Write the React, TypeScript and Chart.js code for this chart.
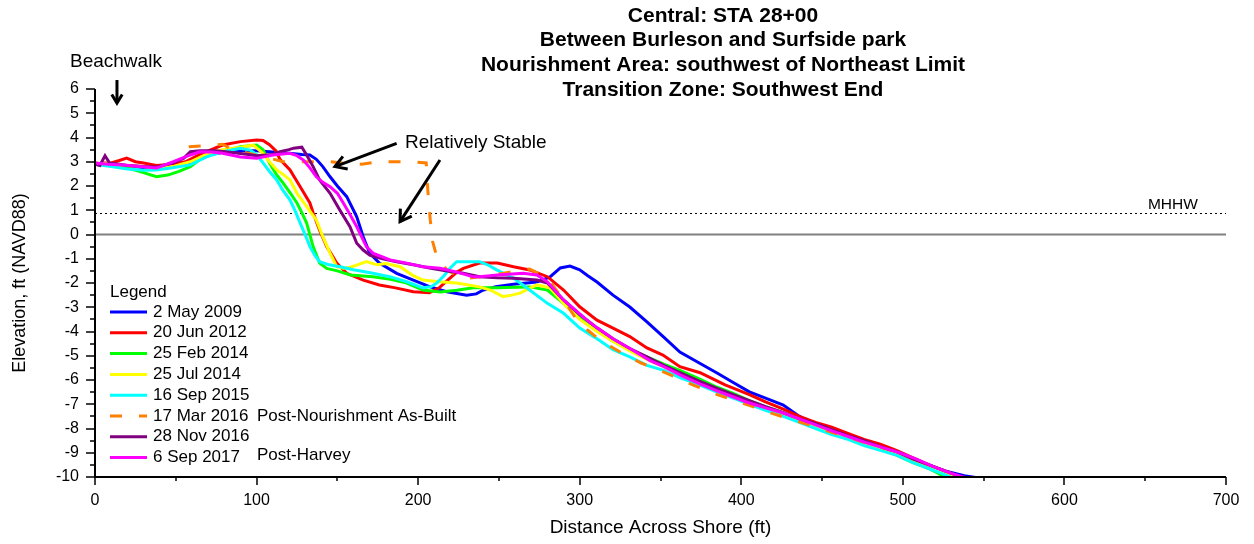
import React, { useEffect, useRef } from 'react';
import { Chart, registerables } from 'chart.js';

Chart.register(...registerables);

type Pt = [number, number];

// Beach profile surveys: [distance across shore (ft), elevation (ft NAVD88)]
const may2009: Pt[] = [
  [0, 2.95], [5, 2.9], [12, 2.85], [20, 2.85], [30, 2.75], [38, 2.7], [48, 2.8], [56, 2.9], [65, 3.1], [72, 3.3],
  [80, 3.4], [90, 3.45], [100, 3.45], [110, 3.4], [120, 3.35], [128, 3.3], [133, 3.28], [137, 3.1], [141, 2.8],
  [145.5, 2.38], [150, 2.0], [155.8, 1.56], [162, 0.73], [166, -0.09], [170, -0.77], [176, -1.18], [186.7, -1.6],
  [197, -1.88], [207, -2.15], [217.7, -2.36], [230, -2.5], [236, -2.45], [240, -2.3], [248, -2.15], [259, -2.05],
  [273.5, -1.96], [281.6, -1.75], [288, -1.38], [294, -1.3], [300, -1.46], [305, -1.7], [310.7, -1.96], [320.6, -2.5],
  [331, -2.99], [341.6, -3.6], [351.5, -4.2], [362, -4.85], [374, -5.3], [385, -5.71], [395, -6.1], [405, -6.49],
  [415, -6.75], [426, -7.03], [436, -7.5], [446, -7.85], [456, -8.05], [466, -8.3], [476, -8.5], [486, -8.75],
  [496, -8.95], [506, -9.25], [516, -9.5], [526, -9.75], [538, -9.95], [548, -10.05],
];

const jun2012: Pt[] = [
  [0, 2.9], [5, 2.95], [10, 2.95], [15, 3.05], [19.6, 3.15], [25, 3.0], [30, 2.95], [38, 2.85], [48, 2.9], [56, 3.0],
  [65, 3.3], [72, 3.5], [79, 3.69], [90, 3.83], [100, 3.9], [104, 3.88], [108, 3.7], [112, 3.45], [114.5, 3.1],
  [120.7, 2.66], [127, 1.97], [133, 1.3], [135, 0.9], [139, 0.18], [143.4, -0.5], [149.6, -1.18], [155.8, -1.6],
  [166, -1.88], [176, -2.08], [186, -2.2], [197, -2.36], [207, -2.4], [213, -2.2], [219.7, -1.8], [224, -1.55],
  [228, -1.4], [238, -1.18], [249, -1.18], [259, -1.33], [269, -1.46], [280, -1.74], [290, -2.29], [300, -2.98],
  [310.7, -3.53], [320.6, -3.86], [331, -4.21], [341.6, -4.68], [351.5, -4.97], [362, -5.45], [374.5, -5.7],
  [390, -6.2], [405, -6.6], [415, -6.9], [426, -7.2], [436, -7.5], [446, -7.75], [456, -7.95], [466, -8.2],
  [476, -8.45], [486, -8.65], [496, -8.9], [506, -9.2], [516, -9.5], [526, -9.75], [536, -10.0], [540, -10.1],
];

const feb2014: Pt[] = [
  [0, 2.9], [10, 2.85], [20, 2.75], [30, 2.55], [38, 2.38], [45, 2.45], [52, 2.6], [59, 2.8], [64, 3.05], [69, 3.28],
  [79, 3.41], [90, 3.62], [100, 3.69], [104, 3.5], [108, 2.95], [112, 2.5], [116.5, 2.12], [121, 1.7], [125, 1.3],
  [128, 0.9], [131, 0.47], [135, -0.5], [139, -1.18], [143.4, -1.4], [150, -1.5], [158, -1.67], [172, -1.74],
  [183, -1.85], [193, -2.0], [203, -2.29], [213.5, -2.37], [224, -2.3], [234, -2.2], [249, -2.2], [260, -2.18],
  [269, -2.16], [280, -2.29], [290, -2.84], [300, -3.45], [310.7, -3.95], [320.6, -4.4], [331, -4.75], [341.6, -5.05],
  [352, -5.35], [362, -5.6], [374, -5.95], [385, -6.3], [395, -6.55], [405, -6.85], [415, -7.1], [426, -7.35],
  [436, -7.65], [446, -7.9], [456, -8.15], [466, -8.4], [476, -8.65], [486, -8.85], [496, -9.1], [506, -9.4],
  [516, -9.65], [522, -9.85], [527, -10.05],
];

const jul2014: Pt[] = [
  [0, 2.95], [10, 2.9], [20, 2.85], [30, 2.8], [38, 2.72], [48, 2.8], [59, 3.0], [69, 3.3], [79, 3.5], [90, 3.6],
  [98, 3.69], [104, 3.35], [108, 3.0], [112.5, 2.66], [117, 2.45], [120.7, 2.25], [125, 1.7], [131, 1.15], [137, 0.6],
  [141, -0.09], [145.5, -0.77], [149.6, -1.33], [153.7, -1.39], [158, -1.35], [162, -1.26], [168, -1.12],
  [174.5, -1.25], [180, -1.2], [188.8, -1.33], [197, -1.7], [203, -1.88], [213, -1.95], [223.8, -2.0], [238, -2.16],
  [245, -2.3], [252.6, -2.56], [258, -2.5], [263, -2.42], [268, -2.25], [273.5, -2.08], [281.6, -2.2], [290, -2.84],
  [300, -3.5], [310.7, -4.0], [320.6, -4.4], [331, -4.8], [341.6, -5.15], [352, -5.45], [362, -5.75], [374, -6.1],
  [385, -6.4], [395, -6.7], [405, -6.95], [415, -7.2], [426, -7.45], [436, -7.7], [446, -7.95], [456, -8.2],
  [466, -8.4], [476, -8.6], [486, -8.85], [496, -9.05], [506, -9.3], [516, -9.6], [526, -9.85], [535, -10.05],
];

const sep2015: Pt[] = [
  [0, 2.9], [10, 2.8], [20, 2.7], [30, 2.65], [38, 2.66], [48, 2.75], [59, 2.87], [69, 3.2], [79, 3.41], [90, 3.56],
  [96, 3.48], [100, 3.3], [104, 2.95], [108, 2.6], [112.5, 2.25], [116, 1.85], [120.7, 1.42], [124, 0.95], [127, 0.47],
  [130, 0.0], [133, -0.5], [136, -0.85], [139, -1.12], [145, -1.25], [151.6, -1.33], [160, -1.45], [172, -1.6],
  [183, -1.75], [193, -1.95], [203, -2.2], [208, -2.15], [211.5, -2.0], [216, -1.7], [219.7, -1.39], [223.8, -1.12],
  [230, -1.12], [238, -1.12], [243, -1.25], [248.6, -1.46], [259, -1.8], [269, -2.29], [280, -2.84], [290, -3.25],
  [300, -3.86], [310.7, -4.3], [320.6, -4.75], [331, -5.05], [341.6, -5.4], [352, -5.6], [362, -5.9], [374, -6.2],
  [385, -6.5], [395, -6.75], [405, -7.0], [415, -7.25], [426, -7.5], [436, -7.75], [446, -8.0], [456, -8.25],
  [466, -8.45], [476, -8.7], [486, -8.9], [496, -9.1], [506, -9.4], [516, -9.65], [524, -9.85], [531, -10.05],
];

const mar2016: Pt[] = [
  [58, 3.62], [68, 3.66], [79, 3.72], [85, 3.5], [95, 3.35], [105, 3.2], [116.5, 3.0], [130, 3.0], [145.5, 3.0],
  [155.7, 2.93], [165, 2.9], [176, 3.0], [190, 3.0], [197, 3.0], [205, 2.95], [206, 1.8], [207.5, 0.6], [209, -0.3],
  [211.5, -0.9], [217.7, -1.45], [225, -1.75], [232, -1.8], [243, -1.7], [253, -1.6], [261, -1.5], [269, -1.42],
  [280, -1.8], [290, -2.7], [298, -3.5], [305, -3.95], [312.5, -4.35], [320, -4.65], [329, -5.0], [338, -5.3],
  [348, -5.55], [360, -5.9], [370, -6.2], [385, -6.6], [403, -7.0], [420, -7.4], [442.5, -7.86], [461, -8.27],
  [480, -8.65], [500, -9.05], [520, -9.6], [535, -10.0],
];

const nov2016: Pt[] = [
  [0, 2.9], [3, 2.85], [6.2, 3.25], [9, 2.95], [15, 2.9], [20, 2.85], [30, 2.8], [38, 2.78], [48, 2.95], [55, 3.15],
  [59, 3.41], [65, 3.45], [75, 3.45], [85, 3.38], [95, 3.3], [100, 3.25], [110, 3.3], [114.5, 3.41], [120, 3.5],
  [123, 3.56], [128, 3.6], [131, 3.28], [135, 2.8], [139, 2.25], [145.5, 1.7], [151.6, 1.0], [157.8, 0.32],
  [162, -0.36], [166, -0.64], [170, -0.85], [178, -1.0], [186.7, -1.12], [197, -1.25], [207, -1.38], [217, -1.5],
  [228, -1.6], [238, -1.74], [249, -1.78], [259, -1.8], [273.5, -1.88], [280, -2.0], [290, -2.7], [300, -3.3],
  [310.7, -3.85], [320.6, -4.3], [331, -4.7], [341.6, -5.05], [352, -5.4], [362, -5.7], [374, -6.05], [385, -6.35],
  [395, -6.6], [405, -6.85], [415, -7.1], [426, -7.35], [436, -7.6], [446, -7.8], [456, -8.05], [466, -8.3],
  [476, -8.5], [486, -8.75], [496, -8.95], [506, -9.25], [516, -9.5], [526, -9.75], [540, -10.1],
];

const sep2017: Pt[] = [
  [0, 2.95], [8, 2.9], [17.5, 2.87], [28, 2.8], [38, 2.74], [48.5, 3.0], [59, 3.28], [65, 3.41], [72, 3.4],
  [79, 3.35], [90, 3.2], [100, 3.14], [110, 3.28], [120.7, 3.35], [125, 3.25], [129, 3.07], [133, 2.75], [137, 2.38],
  [141, 2.15], [145.5, 1.97], [150, 1.7], [153.7, 1.3], [158, 0.8], [162, 0.32], [168, -0.5], [172, -0.77],
  [182.6, -1.05], [193, -1.18], [203, -1.33], [213.5, -1.39], [224, -1.55], [234, -1.74], [238, -1.74], [249, -1.67],
  [265, -1.6], [273.5, -1.67], [280, -1.95], [290, -2.7], [304.5, -3.53], [310.7, -3.85], [320.6, -4.3], [331, -4.7],
  [343.5, -5.2], [352, -5.45], [364, -5.85], [374, -6.15], [385, -6.45], [395, -6.7], [405, -6.95], [415, -7.15],
  [426, -7.36], [436, -7.6], [446, -7.85], [456, -8.1], [467, -8.35], [478, -8.6], [488, -8.8], [498, -9.0],
  [508, -9.25], [519, -9.57], [530, -9.85], [540, -10.05],
];

const surveys: Pt[][] = [may2009, jun2012, feb2014, jul2014, sep2015, mar2016, nov2016, sep2017];
const surveyLabels = ['2 May 2009', '20 Jun 2012', '25 Feb 2014', '25 Jul 2014', '16 Sep 2015', '17 Mar 2016', '28 Nov 2016', '6 Sep 2017'];
const surveyNotes = ['', '', '', '', '', 'Post-Nourishment As-Built', '', 'Post-Harvey'];
const surveyColors = ['#0000FF', '#FF0000', '#00FF00', '#FFFF00', '#00FFFF', '#FF8000', '#800080', '#FF00FF'];
const dashedSurvey = '17 Mar 2016';

const titleLines = [
  'Central: STA 28+00',
  'Between Burleson and Surfside park',
  'Nourishment Area: southwest of Northeast Limit',
  'Transition Zone: Southwest End',
];

const xMin = 0;
const xMax = 700;
const yMin = -10;
const yMax = 6;
const mhhwElevation = 0.9;

const FONT = '"Liberation Sans", Arial, Helvetica, sans-serif';

function drawArrow(ctx: CanvasRenderingContext2D, x1: number, y1: number, x2: number, y2: number, head: number) {
  const a = Math.atan2(y2 - y1, x2 - x1);
  ctx.beginPath();
  ctx.moveTo(x1, y1);
  ctx.lineTo(x2, y2);
  ctx.stroke();
  ctx.beginPath();
  ctx.moveTo(x2 - head * Math.cos(a - 0.55), y2 - head * Math.sin(a - 0.55));
  ctx.lineTo(x2, y2);
  ctx.lineTo(x2 - head * Math.cos(a + 0.55), y2 - head * Math.sin(a + 0.55));
  ctx.stroke();
}

const profilePlugin = {
  id: 'profileDecor',
  beforeDatasetsDraw(chart: any) {
    const { ctx, chartArea, scales } = chart;
    const y = scales.y;
    ctx.save();
    // zero datum
    ctx.strokeStyle = '#808080';
    ctx.lineWidth = 2;
    ctx.beginPath();
    ctx.moveTo(chartArea.left, y.getPixelForValue(0));
    ctx.lineTo(chartArea.right, y.getPixelForValue(0));
    ctx.stroke();
    // MHHW
    ctx.strokeStyle = '#000';
    ctx.lineWidth = 1;
    ctx.setLineDash([2, 3]);
    ctx.beginPath();
    ctx.moveTo(chartArea.left, Math.round(y.getPixelForValue(mhhwElevation)) + 0.5);
    ctx.lineTo(chartArea.right, Math.round(y.getPixelForValue(mhhwElevation)) + 0.5);
    ctx.stroke();
    ctx.restore();
  },
  afterDraw(chart: any) {
    const { ctx, chartArea, scales } = chart;
    const xs = scales.x;
    const ys = scales.y;
    ctx.save();

    // axes with major and minor tick marks
    ctx.strokeStyle = '#000';
    ctx.lineWidth = 2;
    ctx.beginPath();
    ctx.moveTo(chartArea.left, chartArea.top);
    ctx.lineTo(chartArea.left, chartArea.bottom);
    ctx.lineTo(chartArea.right, chartArea.bottom);
    ctx.stroke();
    ctx.lineWidth = 1.5;
    for (const t of ys.ticks) {
      const py = Math.round(ys.getPixelForValue(t.value));
      const len = Number.isInteger(t.value) ? 9 : 5;
      ctx.beginPath();
      ctx.moveTo(chartArea.left - len, py);
      ctx.lineTo(chartArea.left, py);
      ctx.stroke();
    }
    for (const t of xs.ticks) {
      const px = Math.round(xs.getPixelForValue(t.value));
      const len = t.value % 100 === 0 ? 8 : 4;
      ctx.beginPath();
      ctx.moveTo(px, chartArea.bottom);
      ctx.lineTo(px, chartArea.bottom + len);
      ctx.stroke();
    }

    // title block
    ctx.fillStyle = '#000';
    ctx.textAlign = 'center';
    ctx.textBaseline = 'middle';
    ctx.font = `bold 21px ${FONT}`;
    titleLines.forEach((line, i) => ctx.fillText(line, 723, 16 + i * 24.7));

    // legend
    ctx.textAlign = 'left';
    ctx.font = `17px ${FONT}`;
    const lx = chartArea.left + 15;
    ctx.fillText('Legend', lx, 292);
    surveyLabels.forEach((label, i) => {
      const ly = 312 + i * 20.8;
      ctx.strokeStyle = surveyColors[i];
      ctx.lineWidth = 3;
      ctx.setLineDash(label === dashedSurvey ? [12, 17] : []);
      ctx.beginPath();
      ctx.moveTo(lx, ly);
      ctx.lineTo(lx + 37, ly);
      ctx.stroke();
      ctx.setLineDash([]);
      ctx.fillStyle = '#000';
      ctx.fillText(label, lx + 43, ly);
      if (surveyNotes[i]) ctx.fillText(surveyNotes[i], lx + 147, ly - (label === '6 Sep 2017' ? 2 : 0));
    });

    // annotations
    ctx.font = `19px ${FONT}`;
    ctx.fillText('Beachwalk', 70, 62);
    ctx.fillText('Relatively Stable', xs.getPixelForValue(191.9), ys.getPixelForValue(3.77));
    ctx.font = `15.5px ${FONT}`;
    ctx.fillText('MHHW', xs.getPixelForValue(651.7), ys.getPixelForValue(1.22));

    ctx.strokeStyle = '#000';
    ctx.lineWidth = 3;
    ctx.lineCap = 'butt';
    drawArrow(ctx, xs.getPixelForValue(13.6), ys.getPixelForValue(6.37), xs.getPixelForValue(13.6), ys.getPixelForValue(5.42), 10);
    drawArrow(ctx, xs.getPixelForValue(186.7), ys.getPixelForValue(3.76), xs.getPixelForValue(148.5), ys.getPixelForValue(2.8), 13);
    drawArrow(ctx, xs.getPixelForValue(213.5), ys.getPixelForValue(3.07), xs.getPixelForValue(188.8), ys.getPixelForValue(0.53), 13);

    ctx.restore();
  },
};

export default function App() {
  const canvasRef = useRef<HTMLCanvasElement | null>(null);

  useEffect(() => {
    document.body.style.margin = '0';
    const canvas = canvasRef.current;
    if (!canvas) return;

    const datasets = surveys.map((pts, i) => ({
      label: surveyLabels[i],
      data: pts.map(([x, y]) => ({ x, y })),
      borderColor: surveyColors[i],
      backgroundColor: surveyColors[i],
      borderWidth: 3,
      borderDash: surveyLabels[i] === dashedSurvey ? [12, 17] : [],
      pointRadius: 0,
      tension: 0,
      fill: false,
      order: surveys.length - i,
    }));

    const chart = new Chart(canvas, {
      type: 'line',
      data: { datasets },
      options: {
        responsive: false,
        animation: false,
        events: [],
        layout: { padding: { top: 89, right: 28, left: 0, bottom: 0 } },
        plugins: {
          legend: { display: false },
          tooltip: { enabled: false },
          title: { display: false },
        },
        scales: {
          x: {
            type: 'linear',
            min: xMin,
            max: xMax,
            afterFit: (s: any) => { s.height = 67; },
            grid: { display: true, drawOnChartArea: false, drawTicks: true, tickLength: 9, color: 'rgba(0,0,0,0)' },
            border: { display: false },
            ticks: {
              stepSize: 50,
              autoSkip: false,
              maxRotation: 0,
              padding: 5,
              color: '#000',
              font: { family: FONT, size: 16 },
              callback: (v: any) => (Number(v) % 100 === 0 ? String(v) : ''),
            },
            title: {
              display: true,
              text: 'Distance Across Shore (ft)',
              color: '#000',
              font: { family: FONT, size: 19 },
              padding: { top: 0, bottom: 5 },
            },
          },
          y: {
            type: 'linear',
            min: yMin,
            max: yMax,
            afterFit: (s: any) => { s.width = 95; },
            grid: { display: true, drawOnChartArea: false, drawTicks: true, tickLength: 9, color: 'rgba(0,0,0,0)' },
            border: { display: false },
            ticks: {
              stepSize: 0.5,
              autoSkip: false,
              padding: 7,
              color: '#000',
              font: { family: FONT, size: 16 },
              callback: (v: any) => (Number.isInteger(Number(v)) ? String(v) : ''),
            },
            title: {
              display: true,
              text: 'Elevation, ft (NAVD88)',
              color: '#000',
              font: { family: FONT, size: 18 },
              padding: { top: 9, bottom: 0 },
            },
          },
        },
      },
      plugins: [profilePlugin],
    } as any);

    return () => chart.destroy();
  }, []);

  return (
    <div style={{ width: 1254, height: 544, background: '#fff' }}>
      <canvas ref={canvasRef} width={1254} height={544} style={{ display: 'block' }} />
    </div>
  );
}
